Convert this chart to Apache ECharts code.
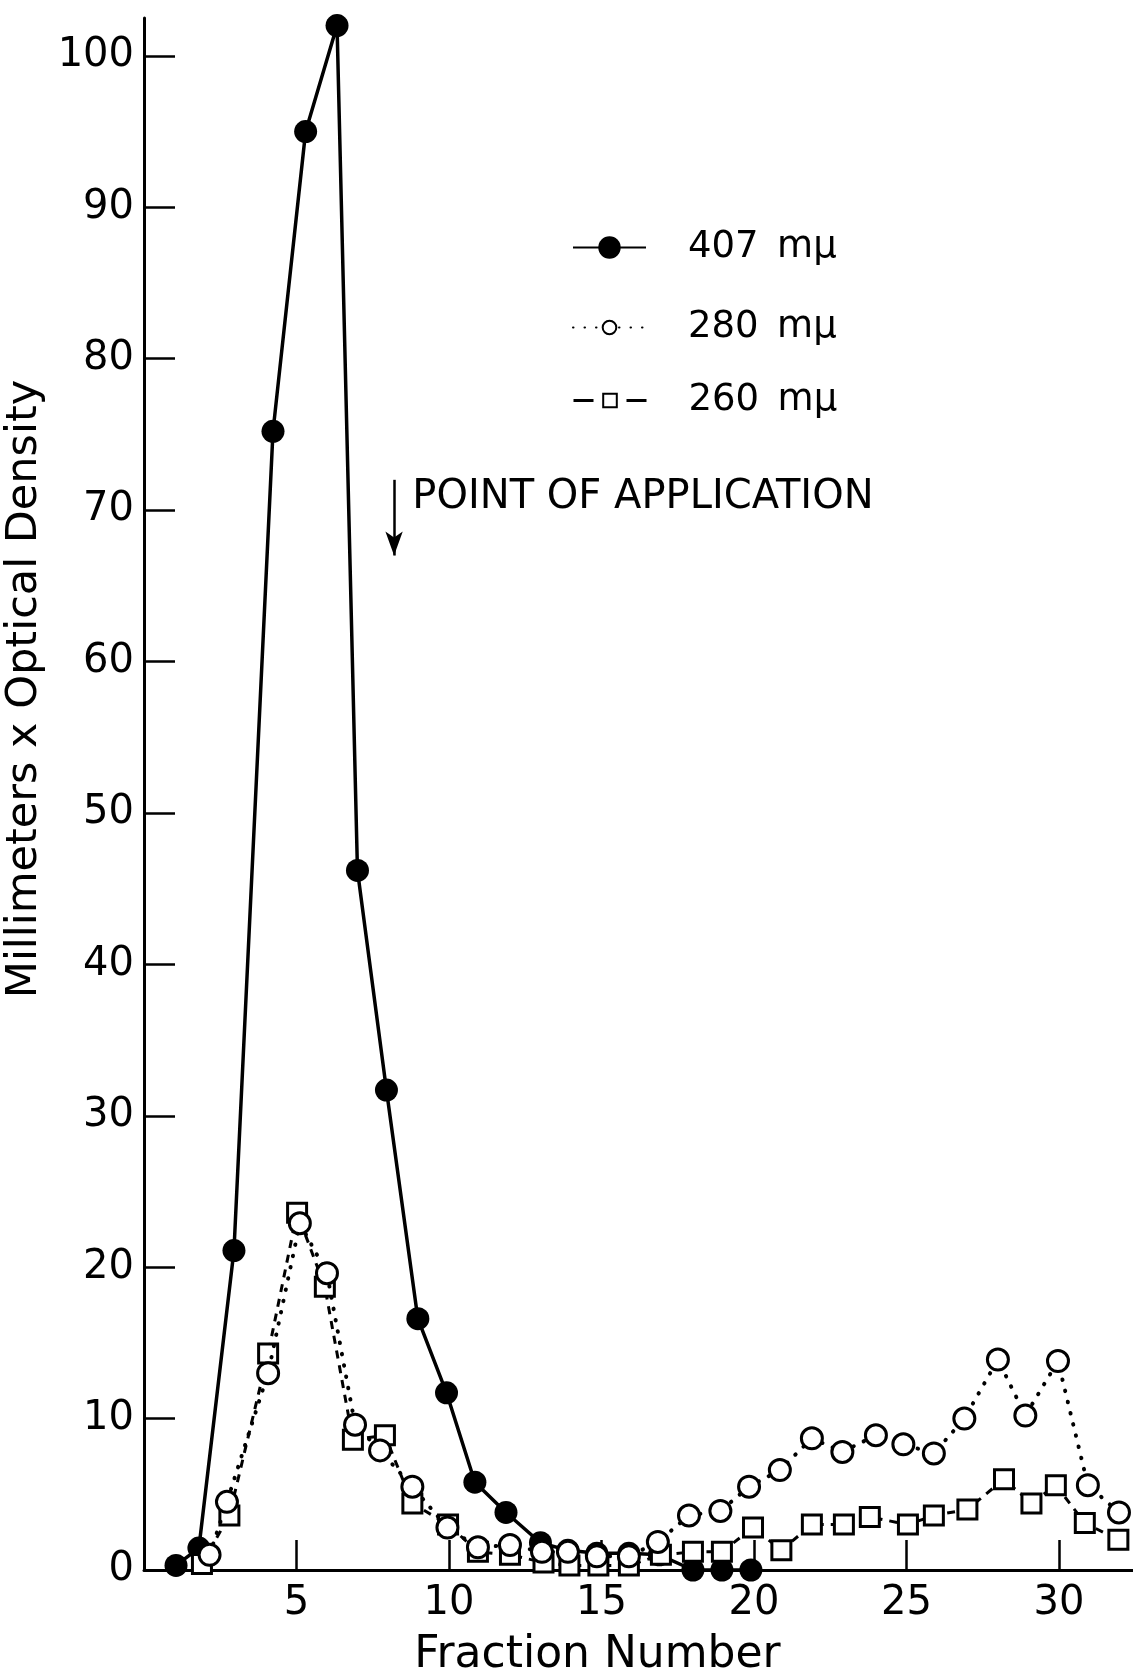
<!DOCTYPE html>
<html>
<head>
<meta charset="utf-8">
<script src="https://cdn.jsdelivr.net/npm/echarts@6/dist/echarts.min.js"></script>
<style>
  html, body { margin: 0; padding: 0; background: #fff; }
  #chart { width: 1133px; height: 1675px; }
</style>
</head>
<body>
<div id="chart"></div>
<script>
// Elution profile: fraction number vs. millimeters x optical density at three wavelengths.
const seriesNames = ['407 mμ', '280 mμ', '260 mμ'];

// [fraction, mm x OD] pairs, as plotted
const absorb407 = [
  [1.05, 0.3], [1.8, 1.45], [2.95, 21.1], [4.23, 75.2], [5.3, 95.0], [6.33, 102.0],
  [7.0, 46.2], [7.95, 31.7], [8.98, 16.6], [9.92, 11.7], [10.85, 5.8], [11.87, 3.8],
  [13.0, 1.8], [13.9, 1.3], [14.85, 1.1], [15.9, 1.1], [16.9, 1.0], [18.0, 0],
  [18.95, 0], [19.9, 0]
];
const absorb280 = [
  [2.15, 1.0], [2.72, 4.5], [4.07, 13.0], [5.11, 22.9], [6.0, 19.6], [6.92, 9.6],
  [7.74, 7.9], [8.8, 5.5], [9.95, 2.8], [10.95, 1.5], [12.0, 1.65], [13.05, 1.2],
  [13.9, 1.2], [14.85, 0.9], [15.9, 0.9], [16.85, 1.85], [17.87, 3.6], [18.9, 3.9],
  [19.84, 5.5], [20.85, 6.6], [21.9, 8.7], [22.9, 7.8], [24.0, 8.9], [24.9, 8.3],
  [25.9, 7.7], [26.9, 10.0], [28.0, 13.9], [28.9, 10.2], [29.97, 13.8], [30.95, 5.6],
  [31.97, 3.8]
];
const absorb260 = [
  [1.9, 0.4], [2.8, 3.6], [4.07, 14.3], [5.02, 23.6], [5.93, 18.7], [6.85, 8.6],
  [7.9, 8.9], [8.8, 4.4], [9.97, 3.0], [10.95, 1.2], [12.0, 1.0], [13.1, 0.5],
  [13.95, 0.3], [14.9, 0.3], [15.9, 0.3], [16.95, 1.0], [18.0, 1.2], [18.95, 1.2],
  [19.97, 2.8], [20.9, 1.3], [21.9, 3.0], [22.95, 3.0], [23.8, 3.5], [25.05, 3.0],
  [25.9, 3.6], [27.0, 4.0], [28.2, 6.0], [29.1, 4.4], [29.9, 5.6], [30.85, 3.1],
  [31.95, 2.0]
];

const xTicks = [5, 10, 15, 20, 25, 30];
const yTicks = [0, 10, 20, 30, 40, 50, 60, 70, 80, 90, 100];

// sample application point: arrow from (fraction, top) to (fraction, bottom)
const applicationArrow = [8.2, 72, 67];
const applicationText = 'POINT OF APPLICATION';
const applicationTextAt = [8.8, 70.8];

const FONT = '"DejaVu Sans", "Liberation Sans", sans-serif';
const INK = '#000';

const chart = echarts.init(document.getElementById('chart'), null, { renderer: 'canvas' });

function legendFor(name, top, itemHeight, iconLine) {
  const lg = {
    data: [name],
    left: 572,
    top: top,
    padding: 0,
    itemWidth: 73,
    itemHeight: itemHeight,
    selectedMode: false,
    formatter: n => n.replace(' ', '\u2002'),
    textStyle: {
      fontFamily: FONT,
      fontSize: 37,
      color: INK,
      padding: [0, 0, 0, 37]
    }
  };
  if (iconLine) lg.lineStyle = iconLine;
  return lg;
}

chart.setOption({
  animation: false,
  backgroundColor: '#fff',
  grid: {
    left: 144, right: 0, top: 18, bottom: 105,
    containLabel: false,
    outerBoundsMode: 'none'
  },
  legend: [
    legendFor(seriesNames[0], 229, 28),
    legendFor(seriesNames[1], 309, 17),
    legendFor(seriesNames[2], 382, 17, { type: [20, 33], width: 3 })
  ],
  xAxis: {
    type: 'value',
    min: 0,
    max: 32.43,
    name: 'Fraction Number',
    nameLocation: 'middle',
    nameGap: 64,
    nameTextStyle: {
      fontFamily: FONT, fontSize: 44, color: INK,
      padding: [0, 82, 0, 0]
    },
    axisLine: { show: true, lineStyle: { color: INK, width: 3 } },
    axisTick: {
      show: true, inside: true, length: 30,
      customValues: xTicks,
      lineStyle: { color: INK, width: 2.5 }
    },
    axisLabel: {
      show: true, customValues: xTicks, margin: 14,
      fontFamily: FONT, fontSize: 40, color: INK
    },
    splitLine: { show: false }
  },
  yAxis: {
    type: 'value',
    min: 0,
    max: 102.5,
    name: 'Millimeters x Optical Density',
    nameLocation: 'middle',
    nameRotate: 90,
    nameGap: 92,
    nameTextStyle: {
      fontFamily: FONT, fontSize: 43, color: INK,
      padding: [0, 0, 0, 210]
    },
    axisLine: { show: true, lineStyle: { color: INK, width: 3 } },
    axisTick: {
      show: true, inside: true, length: 31,
      customValues: yTicks,
      lineStyle: { color: INK, width: 2.5 }
    },
    axisLabel: {
      show: true, customValues: yTicks, margin: 10,
      fontFamily: FONT, fontSize: 40, color: INK
    },
    splitLine: { show: false }
  },
  series: [
    {
      name: seriesNames[0],
      type: 'line',
      data: absorb407,
      z: 2,
      symbol: 'circle',
      symbolSize: 23,
      itemStyle: { color: INK },
      lineStyle: { color: INK, width: 3.5 },
      markLine: {
        silent: true,
        symbol: ['none', 'arrow'],
        symbolSize: [13, 24],
        label: { show: false },
        lineStyle: { color: INK, width: 2.5, type: 'solid' },
        data: [[
          { coord: [applicationArrow[0], applicationArrow[1]] },
          { coord: [applicationArrow[0], applicationArrow[2]] }
        ]]
      }
    },
    {
      name: seriesNames[2],
      type: 'line',
      data: absorb260,
      z: 3,
      symbol: 'rect',
      symbolSize: 19,
      itemStyle: { color: '#fff', borderColor: INK, borderWidth: 3 },
      lineStyle: { color: INK, width: 3, type: [8, 7] }
    },
    {
      name: seriesNames[1],
      type: 'line',
      data: absorb280,
      z: 4,
      symbol: 'circle',
      symbolSize: 21,
      itemStyle: { color: '#fff', borderColor: INK, borderWidth: 3 },
      lineStyle: { color: INK, width: 4, type: [0.5, 11], cap: 'round' }
    }
  ]
});

// caption next to the application arrow, placed through the grid's scales
const at = chart.convertToPixel({ gridIndex: 0 }, applicationTextAt);
chart.setOption({
  graphic: [{
    type: 'text',
    x: at[0],
    y: at[1],
    silent: true,
    style: {
      text: applicationText,
      fontFamily: FONT,
      fontSize: 40,
      fill: INK,
      align: 'left',
      verticalAlign: 'middle'
    }
  }]
});
</script>
</body>
</html>
